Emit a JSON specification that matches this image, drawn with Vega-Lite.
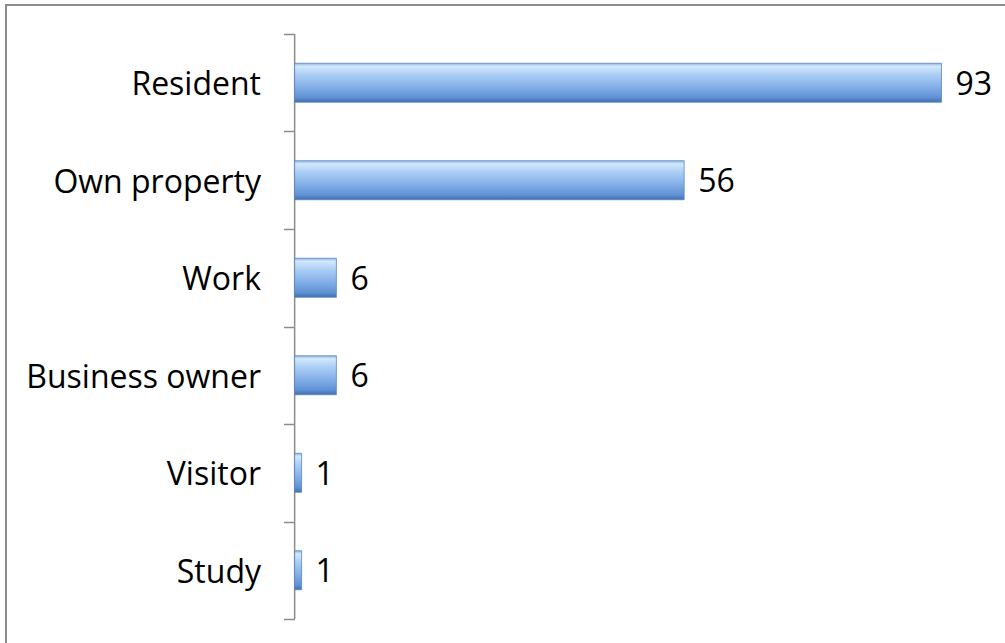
{
  "$schema": "https://vega.github.io/schema/vega-lite/v6.json",
  "autosize": "none",
  "padding": {"left": 6, "top": 5, "right": 0, "bottom": 0},
  "width": 1012,
  "height": 643,
  "background": "white",
  "config": {
    "view": {"stroke": "#8c8c8c", "strokeWidth": 2},
    "font": "Open Sans"
  },
  "data": {
    "values": [
      {"category": "Resident", "value": 93},
      {"category": "Own property", "value": 56},
      {"category": "Work", "value": 6},
      {"category": "Business owner", "value": 6},
      {"category": "Visitor", "value": 1},
      {"category": "Study", "value": 1}
    ]
  },
  "encoding": {
    "y": {
      "field": "category",
      "type": "nominal",
      "sort": null,
      "scale": {"paddingInner": 0, "paddingOuter": 0.2974, "align": 0.5},
      "axis": {
        "title": null,
        "offset": -288.5,
        "domain": false,
        "tickBand": "extent",
        "ticks": true,
        "tickSize": 11,
        "tickColor": "#8c8c8c",
        "tickWidth": 1.5,
        "labelPadding": 23,
        "labelOffset": 2,
        "labelFont": "Open Sans",
        "labelFontSize": 32,
        "labelColor": "#000000",
        "labelLimit": 400,
        "grid": false
      }
    }
  },
  "layer": [
    {
      "mark": {"type": "bar", "fill": null, "stroke": "#8c8c8c", "strokeWidth": 1.5, "height": {"band": 1}},
      "encoding": {
        "x": {"datum": 0, "type": "quantitative", "scale": {"domain": [-41.5, 104], "zero": false, "nice": false}, "axis": null},
        "x2": {"datum": 0}
      }
    },
    {
      "mark": {
        "type": "bar",
        "height": {"band": 0.4},
        "stroke": "#5a86c0",
        "strokeWidth": 0.8,
        "fill": {
          "gradient": "linear",
          "x1": 0, "y1": 0, "x2": 0, "y2": 1,
          "stops": [
            {"offset": 0, "color": "#8fb7e8"},
            {"offset": 0.08, "color": "#d2e8fd"},
            {"offset": 0.3, "color": "#aacdf5"},
            {"offset": 0.6, "color": "#84b0e8"},
            {"offset": 0.88, "color": "#5f91d3"},
            {"offset": 1, "color": "#3f6ead"}
          ]
        }
      },
      "encoding": {
        "x": {"field": "value", "type": "quantitative", "scale": {"domain": [-41.5, 104], "zero": false, "nice": false}, "axis": null},
        "x2": {"datum": 0}
      }
    },
    {
      "mark": {"type": "text", "align": "left", "baseline": "middle", "dx": 14, "dy": 2, "font": "Open Sans", "fontSize": 32, "color": "#000000"},
      "encoding": {
        "x": {"field": "value", "type": "quantitative", "scale": {"domain": [-41.5, 104], "zero": false, "nice": false}, "axis": null},
        "text": {"field": "value", "type": "quantitative"}
      }
    }
  ]
}
